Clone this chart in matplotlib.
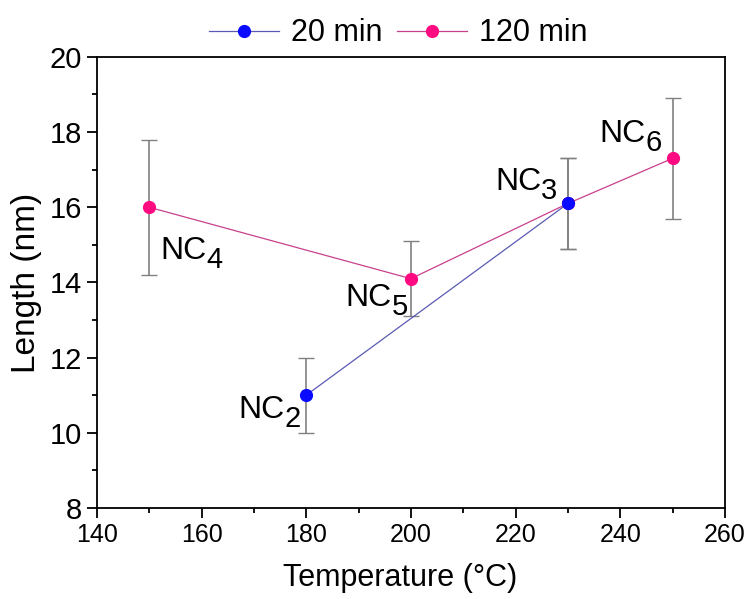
import matplotlib
matplotlib.use('Agg')
import matplotlib.pyplot as plt
from matplotlib.ticker import MultipleLocator

plt.rcParams['font.family'] = 'Liberation Sans'

# data
temp_20 = [180, 230]
len_20 = [11.0, 16.1]
err_20 = [1.0, 1.2]
labels_20 = ['2', '3']

temp_120 = [150, 200, 230, 250]
len_120 = [16.0, 14.1, 16.1, 17.3]
err_120 = [1.8, 1.0, 1.2, 1.6]
labels_120 = ['4', '5', None, '6']

fig = plt.figure(figsize=(7.45, 5.99), dpi=100)
ax = fig.add_axes([0.130, 0.152, 0.843, 0.753])

ax.errorbar(temp_120, len_120, yerr=err_120, fmt='none', ecolor='#808080',
            elinewidth=1.2, capsize=6, capthick=1.0, zorder=1)
ax.errorbar(temp_20, len_20, yerr=err_20, fmt='none', ecolor='#808080',
            elinewidth=1.2, capsize=6, capthick=1.0, zorder=1)
ax.plot(temp_120, len_120, '-o', color='#c8408c', lw=0.9, ms=8.5,
        mfc='#ff0a80', mec='#ff0a80', label='120 min', zorder=2)
ax.plot(temp_20, len_20, '-o', color='#5a5ab4', lw=0.9, ms=8.5,
        mfc='#0a0aff', mec='#0a0aff', label='20 min', zorder=3)

# point labels: "NC" + subscript digit, offsets in pixels (left, baseline)
offsets = {'2': (-68, 23), '3': (-73, -13), '4': (11, 52),
           '5': (-65, 27), '6': (-73, -16)}
for t, l, lab in zip(temp_20 + temp_120, len_20 + len_120, labels_20 + labels_120):
    if lab is None:
        continue
    dx, dy = offsets[lab]
    ax.annotate('NC', (t, l), xytext=(dx, -dy), textcoords='offset pixels',
                ha='left', va='baseline', fontsize=23)
    ax.annotate(lab, (t, l), xytext=(dx + 46, -dy - 9), textcoords='offset pixels',
                ha='left', va='baseline', fontsize=21)

ax.set_xlim(140, 260)
ax.set_ylim(8, 20)
ax.xaxis.set_major_locator(MultipleLocator(20))
ax.xaxis.set_minor_locator(MultipleLocator(10))
ax.yaxis.set_major_locator(MultipleLocator(2))
ax.yaxis.set_minor_locator(MultipleLocator(1))
ax.tick_params(which='major', direction='out', length=7, width=1.3, labelsize=21)
ax.tick_params(which='minor', direction='out', length=3.5, width=1.3)
ax.tick_params(axis='x', labelsize=18)
for s in ax.spines.values():
    s.set_linewidth(1.3)

ax.set_xlabel('Temperature (°C)', fontsize=22, labelpad=12)
ax.xaxis.label.set_x(0.483)
ax.set_ylabel('Length (nm)', fontsize=24, labelpad=6)

h, l = ax.get_legend_handles_labels()
ax.legend(h[::-1], l[::-1], loc='lower center', bbox_to_anchor=(0.48, 0.985),
          ncol=2, frameon=False, fontsize=22, handlelength=2.3,
          columnspacing=0.45, handletextpad=0.4, borderaxespad=0.1)

fig.savefig('out.png', dpi=100)
